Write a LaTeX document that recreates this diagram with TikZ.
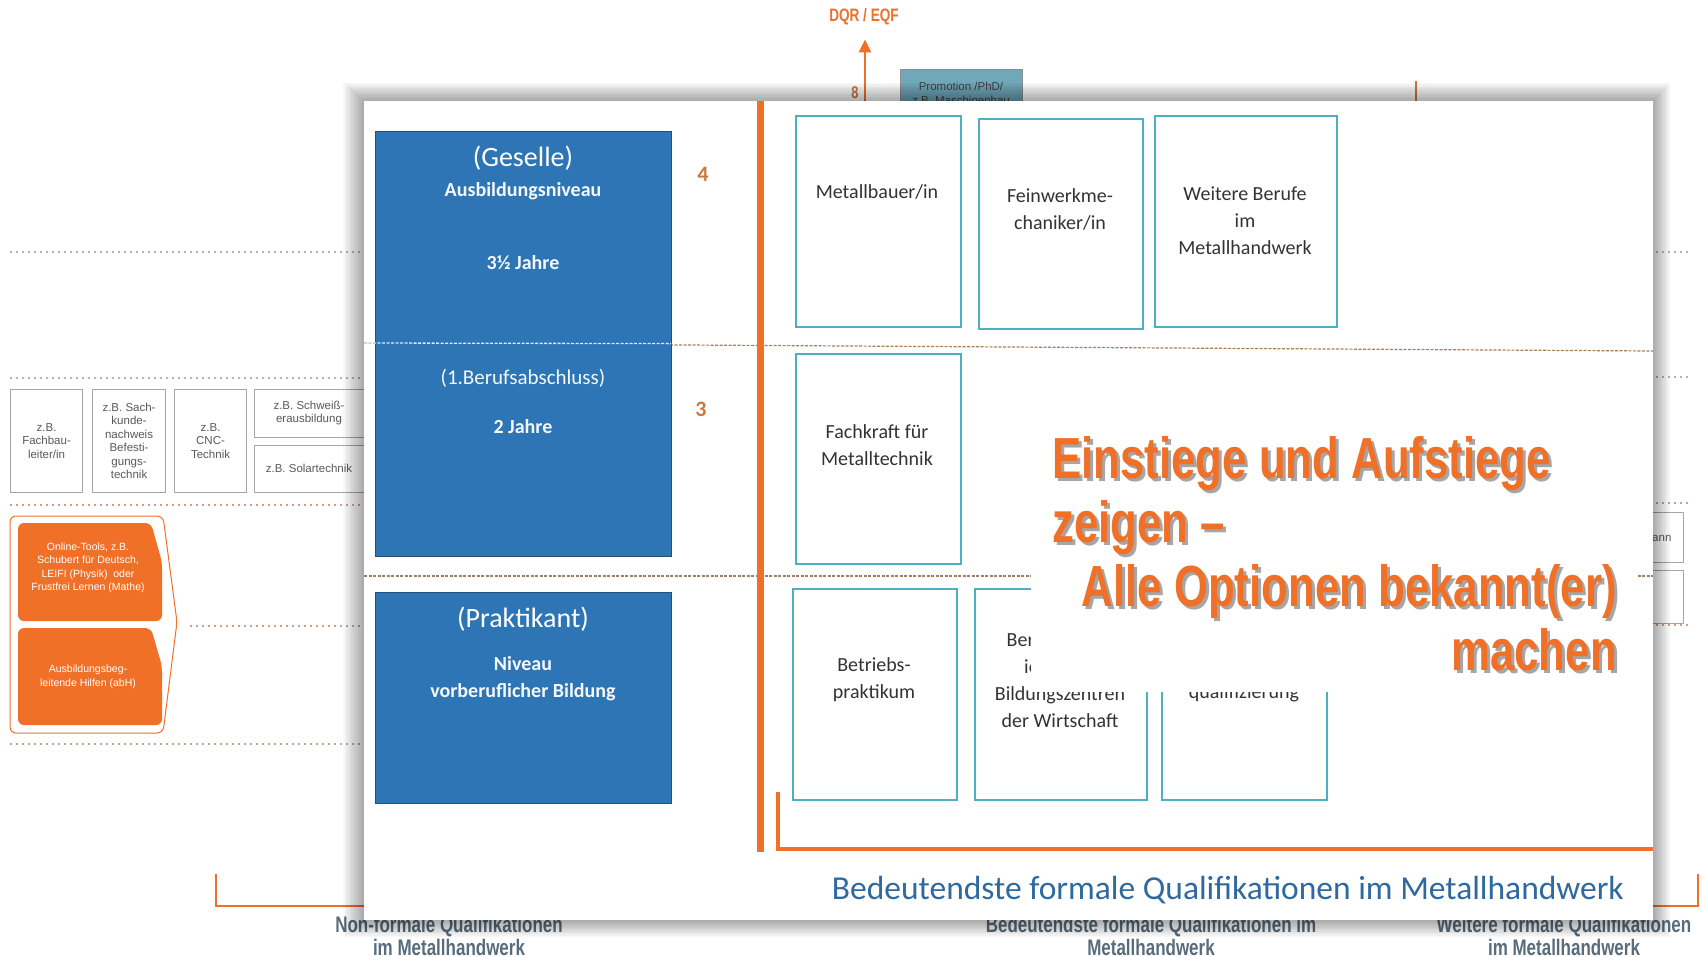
\documentclass[tikz,border=0pt]{standalone}
\usepackage{fontspec}
\setmainfont{Carlito}
\newfontfamily\helv{Liberation Sans}
\newfontfamily\narrowf[FakeStretch=0.755]{Liberation Sans}
\usetikzlibrary{arrows.meta,calc}
\definecolor{blueA}{RGB}{46,117,182}
\definecolor{blueB}{RGB}{35,80,125}
\definecolor{tealbox}{RGB}{78,175,192}
\definecolor{orng}{RGB}{240,112,40}
\definecolor{orngD}{RGB}{205,120,60}
\definecolor{slate}{RGB}{88,108,124}
\definecolor{footblue}{RGB}{46,105,160}
\definecolor{promo}{RGB}{112,168,186}
\definecolor{dotor}{RGB}{205,160,135}
\begin{document}
\begin{tikzpicture}[x=1pt,y=-1pt,
  dotg/.style={draw=gray!60, line width=1.6, dash pattern=on 1.6 off 4.4},
  doto/.style={draw=dotor, line width=1.6, dash pattern=on 1.6 off 4.4},
  gbox/.style={draw=gray!70, line width=1.1, anchor=north west, inner sep=0},
  gtxt/.style={font=\helv\fontsize{11.5}{13.5}\selectfont, text=black!65, align=center, inner sep=0},
  otxt/.style={font=\helv\fontsize{10.5}{13.5}\selectfont, text=white, align=center, inner sep=0},
  labtxt/.style={font=\narrowf\bfseries\fontsize{22.5}{23}\selectfont, text=slate, align=center, inner sep=0},
  tbox/.style={draw=tealbox, line width=1.6, anchor=north west, inner sep=0},
  btxt/.style={font=\fontsize{20}{27}\selectfont, text=black!80, align=center, inner sep=0},
  bluebox/.style={draw=blueB, fill=blueA, line width=1, anchor=north west, inner sep=0},
  wbig/.style={font=\fontsize{28}{30}\selectfont, text=white, inner sep=0},
  wsm/.style={font=\bfseries\fontsize{20}{22}\selectfont, text=white!95!blueA, inner sep=0},
  lvl/.style={font=\bfseries\fontsize{22}{24}\selectfont, text=orngD, inner sep=0},
  title/.style={font=\narrowf\bfseries\fontsize{58}{60}\selectfont, text=orng, inner sep=0},
  tshadow/.style={font=\narrowf\bfseries\fontsize{58}{60}\selectfont, text=black, opacity=0.35, inner sep=0}
]
\useasboundingbox (0,0) rectangle (1702,956);
\fill[white] (0,0) rectangle (1702,956);

% ---------------- background layer ----------------
\draw[dotg] (10,252) -- (364,252);
\draw[dotg] (10,378) -- (364,378);
\draw[doto] (10,505) -- (364,505);
\draw[doto] (10,744) -- (364,744);
\draw[doto] (190,626) -- (364,626);
\draw[dotg] (1656,252) -- (1690,252);
\draw[dotg] (1656,377) -- (1690,377);
\draw[doto] (1656,503) -- (1690,503);
\draw[doto] (1656,625) -- (1690,625);

% left grey boxes
\node[gbox, minimum width=72, minimum height=103] (l1) at (10,389) {};
\node[gtxt] at (l1.center) {z.B.\\Fachbau-\\leiter/in};
\node[gbox, minimum width=73, minimum height=103] (l2) at (92,389) {};
\node[gtxt] at (l2.center) {z.B. Sach-\\kunde-\\nachweis\\Befesti-\\gungs-\\technik};
\node[gbox, minimum width=72, minimum height=103] (l3) at (174,389) {};
\node[gtxt] at (l3.center) {z.B.\\CNC-\\Technik};
\node[gbox, minimum width=126, minimum height=48] (l4) at (254,389) {};
\node[gtxt] at (309,413) {z.B. Schweiß-\\erausbildung};
\node[gbox, minimum width=126, minimum height=47] (l5) at (254,445) {};
\node[gtxt] at (309,468) {z.B. Solartechnik};

% right grey boxes
\node[gbox, minimum width=60, minimum height=50] (r1) at (1623,512) {};
\node[gtxt, anchor=west] at (1652,538) {ann};
\node[gbox, minimum width=60, minimum height=53] (r2) at (1623,570) {};

% orange support block
\draw[orng, line width=1, rounded corners=6] (10,733) -- (10,516) -- (163,516) -- (177,622) -- (163,733) -- cycle;
\fill[orng, rounded corners=6] (18,523) -- (151,523) -- (162,562) -- (162,621) -- (18,621) -- cycle;
\fill[orng, rounded corners=6] (18,628) -- (151,628) -- (162,666) -- (162,725) -- (18,725) -- cycle;
\node[otxt] (on1) at (88,568) {Online-Tools, z.B.\\Schubert für Deutsch,\\LEIFI (Physik)\ \ oder\\Frustfrei Lernen (Mathe)};
\node[otxt] (on2) at (88,677) {Ausbildungsbeg-\\leitende Hilfen (abH)};

% DQR arrow
\node[font=\narrowf\bfseries\fontsize{18}{20}\selectfont, text=orng, inner sep=0] (dqr) at (864,17) {DQR / EQF};
\coordinate (arrbase) at (865,101);
\draw[orng, line width=2.6, -{Triangle[width=12pt,length=13pt]}, shorten >=14pt] (arrbase) -- (arrbase |- dqr.south);
\node[font=\narrowf\bfseries\fontsize{17}{19}\selectfont, text=orngD, inner sep=0] (eight) at (855,93) {8};
\node[draw=black!45, fill=promo, line width=0.8, anchor=north west, minimum width=122, minimum height=60, inner sep=0] (promo) at (900,69) {};
\node[font=\helv\fontsize{11.5}{13}\selectfont, text=black!75, inner sep=0] at (961,86) {Promotion /PhD/};
\node[font=\helv\fontsize{11.5}{13}\selectfont, text=black!75, inner sep=0] at (961,100) {z.B. Maschinenbau};
\draw[orngD, line width=2] (1416,81) -- (1416,105);

% bottom orange brackets
\draw[orng, line width=2] (216,874) -- (216,906) -- (370,906);
\draw[orng, line width=2] (1640,906) -- (1698,906) -- (1698,874);

% bottom labels
\node[labtxt] (nf) at (449,936) {Non-formale Qualifikationen\\im Metallhandwerk};
\node[labtxt] (bf) at (1151,936) {Bedeutendste formale Qualifikationen im\\Metallhandwerk};
\node[labtxt] (wf) at (1564,936) {Weitere formale Qualifikationen\\im Metallhandwerk};

% ---------------- panel ----------------
\foreach \i in {1,...,13} {
  \fill[black, opacity=0.028] (364-\i*1.6, 101-\i*1.4) rectangle (1653+\i*1.3, 920+\i*1.3);
}
\fill[white] (364,101) rectangle (1653,920);

% level lines
\draw[gray!70!orange, line width=1.2, dash pattern=on 3 off 1.5] (364,343) -- (1653,351);
\draw[gray!75!orange, line width=1.2, dash pattern=on 3 off 1.5] (364,576) -- (1653,576);

% blue boxes
\node[bluebox, minimum width=296, minimum height=425] (ges) at (375,131) {};
\node[bluebox, minimum width=296, minimum height=211] (prak) at (375,592) {};
\draw[white!85!blueA, line width=1.3, dash pattern=on 3 off 1.5] (364,343) -- (671,343.6);
\node[wbig] at (523,158) {(Geselle)};
\node[wsm] at (523,191) {Ausbildungsniveau};
\node[wsm] at (523,263) {3½ Jahre};
\node[wsm, font=\fontsize{21}{22}\selectfont] at (523,378) {(1.Berufsabschluss)};
\node[wsm] at (523,427) {2 Jahre};
\node[wbig] at (523,619) {(Praktikant)};
\node[wsm] at (523,664) {Niveau};
\node[wsm] at (523,692) {vorberuflicher Bildung};

% level numbers
\node[lvl] (n4) at (703,174) {4};
\node[lvl] (n3) at (701,409) {3};

% orange axes
\draw[orng, line width=7] (760,101) -- (760,852);
\draw[orng, line width=4] (778,792) -- (778,849) -- (1653,849);

% teal boxes
\node[tbox, minimum width=165, minimum height=211] (mb) at (795,115) {};
\node[btxt] at (877,192) {Metallbauer/in};
\node[tbox, minimum width=164, minimum height=210] (fw) at (978,118) {};
\node[btxt] at (1060,209) {Feinwerkme-\\chaniker/in};
\node[tbox, minimum width=182, minimum height=211] (wb) at (1154,115) {};
\node[btxt] at (1245,221) {Weitere Berufe\\im\\Metallhandwerk};
\node[tbox, minimum width=165, minimum height=210] (fk) at (795,353) {};
\node[btxt] at (877,445) {Fachkraft für\\Metalltechnik};
\node[tbox, minimum width=164, minimum height=211] (bp) at (792,588) {};
\node[btxt] at (874,680) {Betriebs-\\praktikum};
\node[tbox, minimum width=172, minimum height=211] (bo) at (974,588) {};
\node[btxt] at (1060,680) {Berufsorient-\\ierung in\\Bildungszentren\\der Wirtschaft};
\node[tbox, minimum width=165, minimum height=211] (eq) at (1161,588) {};
\node[btxt] at (1244,680) {Einstiegs-\\qualifizierung};

% footer
\node[font=\fontsize{33.5}{35}\selectfont, text=footblue, anchor=east, inner sep=0] (foot) at (1624,890) {Bedeutendste formale Qualifikationen im Metallhandwerk};

% ---------------- overlay ----------------
\fill[white] (1031,420) rectangle (1637,692);
\node[tshadow, anchor=base west] at (1055,481) {Einstiege und Aufstiege};
\node[tshadow, anchor=base west] at (1055,545) {zeigen –};
\node[tshadow, anchor=base east] at (1620,609) {Alle Optionen bekannt(er)};
\node[tshadow, anchor=base east] at (1620,673) {machen};
\node[title, anchor=base west] (t1) at (1052,478) {Einstiege und Aufstiege};
\node[title, anchor=base west] (t2) at (1052,542) {zeigen –};
\node[title, anchor=base east] (t3) at (1617,606) {Alle Optionen bekannt(er)};
\node[title, anchor=base east] (t4) at (1617,670) {machen};
\end{tikzpicture}
\end{document}
